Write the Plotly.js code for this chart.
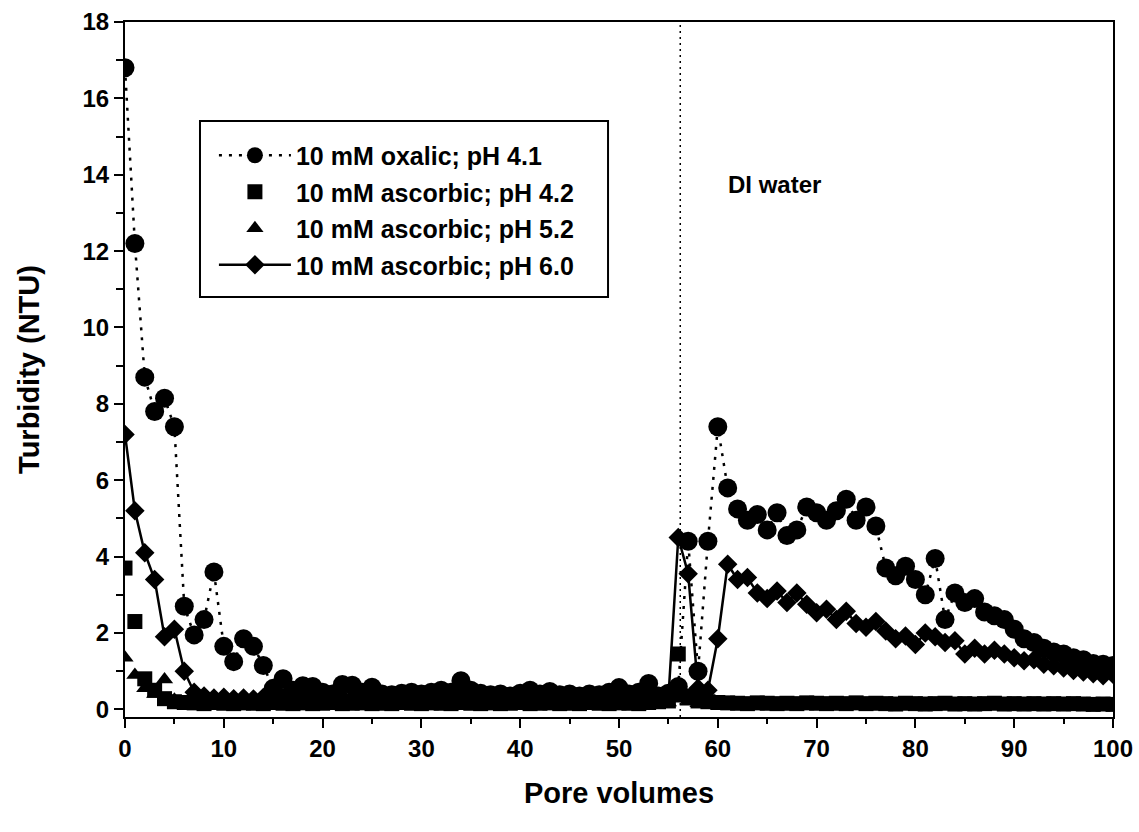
<!DOCTYPE html>
<html>
<head>
<meta charset="utf-8">
<script src="https://cdn.plot.ly/plotly-3.0.1.min.js"></script>
<style>
html,body{margin:0;padding:0;background:#fff;}
#chart{width:1139px;height:832px;}
</style>
</head>
<body>
<div id="chart"></div>
<script>
const poreVolumes = [0,1,2,3,4,5,6,7,8,9,10,11,12,13,14,15,16,17,18,19,20,21,22,23,24,25,26,27,28,29,30,31,32,33,34,35,36,37,38,39,40,41,42,43,44,45,46,47,48,49,50,51,52,53,54,55,56,57,58,59,60,61,62,63,64,65,66,67,68,69,70,71,72,73,74,75,76,77,78,79,80,81,82,83,84,85,86,87,88,89,90,91,92,93,94,95,96,97,98,99,100];

const oxalic41 = [16.8,12.2,8.7,7.8,8.15,7.4,2.7,1.95,2.35,3.6,1.65,1.25,1.85,1.65,1.15,0.55,0.8,0.5,0.62,0.6,0.45,0.4,0.65,0.63,0.45,0.58,0.4,0.38,0.42,0.45,0.4,0.45,0.5,0.45,0.75,0.5,0.42,0.38,0.4,0.35,0.42,0.5,0.4,0.47,0.38,0.4,0.35,0.4,0.38,0.45,0.57,0.4,0.45,0.68,0.35,0.42,0.6,4.4,1.0,4.4,7.4,5.8,5.25,4.95,5.1,4.7,5.15,4.55,4.7,5.3,5.15,4.95,5.2,5.5,4.95,5.3,4.8,3.7,3.5,3.75,3.4,3.0,3.95,2.35,3.05,2.8,2.9,2.55,2.45,2.35,2.1,1.85,1.75,1.6,1.5,1.45,1.35,1.3,1.2,1.18,1.15];

const ascorbic42 = [3.7,2.3,0.8,0.5,0.28,0.2,0.18,0.17,0.15,0.18,0.16,0.15,0.17,0.16,0.15,0.18,0.16,0.15,0.17,0.15,0.16,0.18,0.15,0.16,0.17,0.15,0.16,0.15,0.18,0.16,0.15,0.17,0.16,0.15,0.18,0.16,0.15,0.17,0.15,0.16,0.18,0.15,0.16,0.17,0.15,0.16,0.15,0.18,0.16,0.15,0.17,0.16,0.15,0.18,0.2,0.22,1.45,0.35,0.22,0.2,0.18,0.17,0.16,0.15,0.17,0.16,0.15,0.16,0.15,0.17,0.16,0.15,0.16,0.15,0.17,0.15,0.16,0.15,0.14,0.16,0.15,0.14,0.15,0.16,0.14,0.15,0.14,0.15,0.16,0.14,0.15,0.14,0.15,0.14,0.15,0.14,0.15,0.14,0.13,0.14,0.13];

const ascorbic52 = [1.35,0.9,0.55,0.4,0.78,0.25,0.18,0.14,0.12,0.11,0.12,0.1,0.11,0.12,0.1,0.11,0.12,0.1,0.11,0.1,0.12,0.11,0.1,0.12,0.11,0.1,0.11,0.12,0.1,0.11,0.1,0.12,0.11,0.1,0.11,0.12,0.1,0.11,0.1,0.12,0.11,0.1,0.11,0.12,0.1,0.11,0.1,0.12,0.11,0.1,0.11,0.12,0.1,0.12,0.14,0.18,0.28,0.2,0.16,0.14,0.12,0.11,0.12,0.1,0.11,0.12,0.1,0.11,0.1,0.12,0.11,0.1,0.11,0.1,0.12,0.1,0.11,0.1,0.11,0.1,0.1,0.11,0.1,0.1,0.11,0.1,0.1,0.09,0.1,0.1,0.09,0.1,0.09,0.1,0.09,0.09,0.1,0.09,0.09,0.08,0.09];

const ascorbic60 = [7.2,5.2,4.1,3.4,1.9,2.1,1.0,0.45,0.35,0.3,0.32,0.28,0.3,0.27,0.31,0.28,0.32,0.27,0.3,0.28,0.31,0.27,0.3,0.29,0.27,0.31,0.28,0.3,0.27,0.3,0.29,0.31,0.28,0.27,0.3,0.28,0.31,0.27,0.29,0.3,0.28,0.31,0.27,0.3,0.28,0.29,0.31,0.27,0.3,0.28,0.3,0.29,0.31,0.28,0.3,0.3,4.5,3.55,0.55,0.5,1.85,3.8,3.4,3.45,3.05,2.9,3.1,2.8,3.05,2.75,2.53,2.62,2.35,2.57,2.25,2.15,2.3,2.05,1.85,1.92,1.7,2.0,1.9,1.75,1.8,1.45,1.6,1.45,1.55,1.45,1.35,1.27,1.3,1.18,1.14,1.08,1.02,0.98,0.93,0.88,0.92];

const seriesNames = ["10 mM oxalic; pH 4.1","10 mM ascorbic; pH 4.2","10 mM ascorbic; pH 5.2","10 mM ascorbic; pH 6.0"];
const yTickVals = [0,2,4,6,8,10,12,14,16,18];
const xTickVals = [0,10,20,30,40,50,60,70,80,90,100];
const diWaterPV = 56.2;

const FONT = "Liberation Sans, Arial, Helvetica, sans-serif";
const BLACK = "#000000";

const traces = [
  {x: poreVolumes, y: oxalic41, name: seriesNames[0], type: "scatter", mode: "lines+markers",
   legendgroup: "a",
   line: {color: BLACK, width: 2.5, dash: "3px,7px"},
   marker: {symbol: "circle", size: 19, color: BLACK}},
  {x: poreVolumes, y: ascorbic42, name: seriesNames[1], type: "scatter", mode: "markers",
   legendgroup: "b",
   marker: {symbol: "square", size: 15, color: BLACK}},
  {x: poreVolumes, y: ascorbic52, name: seriesNames[2], type: "scatter", mode: "markers",
   legendgroup: "c",
   marker: {symbol: "triangle-up", size: 15, color: BLACK}},
  {x: poreVolumes, y: ascorbic60, name: seriesNames[3], type: "scatter", mode: "lines+markers",
   legendgroup: "d",
   line: {color: BLACK, width: 2.5},
   marker: {symbol: "diamond", size: 15, color: BLACK}}
];

const layout = {
  width: 1139, height: 832,
  paper_bgcolor: "#fff", plot_bgcolor: "#fff",
  margin: {l: 125, r: 26, t: 22, b: 115},
  font: {family: FONT, color: BLACK, size: 22},
  showlegend: true,
  legend: {
    x: 0.09, y: 0.841, xanchor: "left", yanchor: "top",
    bgcolor: "rgba(0,0,0,0)", borderwidth: 0,
    font: {family: FONT, size: 25, color: BLACK, weight: "bold"},
    itemwidth: 72, traceorder: "grouped", tracegroupgap: 1
  },
  xaxis: {
    range: [0, 100], tickvals: xTickVals, ticks: "outside", ticklen: 9, tickwidth: 2,
    tickcolor: BLACK, showline: true, linecolor: BLACK, linewidth: 2, mirror: true,
    showgrid: false, zeroline: false,
    tickfont: {family: FONT, size: 24, weight: "bold"},
    minor: {dtick: 5, ticks: "outside", ticklen: 5, tickwidth: 2, tickcolor: BLACK, showgrid: false},
    title: {text: "Pore volumes", font: {family: FONT, size: 29, weight: "bold"}, standoff: 22}
  },
  yaxis: {
    range: [-0.2, 18], tickvals: yTickVals, ticks: "outside", ticklen: 9, tickwidth: 2,
    tickcolor: BLACK, showline: true, linecolor: BLACK, linewidth: 2, mirror: true,
    showgrid: false, zeroline: false,
    tickfont: {family: FONT, size: 24, weight: "bold"},
    minor: {dtick: 1, ticks: "outside", ticklen: 7, tickwidth: 2, tickcolor: BLACK, showgrid: false},
    title: {text: "Turbidity (NTU)", font: {family: FONT, size: 29, weight: "bold"}, standoff: 34}
  },
  shapes: [
    {type: "line", xref: "x", yref: "paper", x0: diWaterPV, x1: diWaterPV, y0: 0, y1: 1,
     line: {color: BLACK, width: 1.5, dash: "2px,4px"}, layer: "below"},
    {type: "rect", xref: "paper", yref: "paper", x0: 0.0759, x1: 0.4889, y0: 0.6043, y1: 0.8576,
     line: {color: BLACK, width: 2}, fillcolor: "rgba(255,255,255,1)", layer: "above"}
  ],
  annotations: [
    {x: 60.8, y: 13.75, xref: "x", yref: "y", text: "DI water", showarrow: false,
     xanchor: "left", yanchor: "middle", font: {family: FONT, size: 24, color: BLACK, weight: "bold"}}
  ]
};

Plotly.newPlot("chart", traces, layout, {displayModeBar: false, staticPlot: true});
</script>
</body>
</html>
